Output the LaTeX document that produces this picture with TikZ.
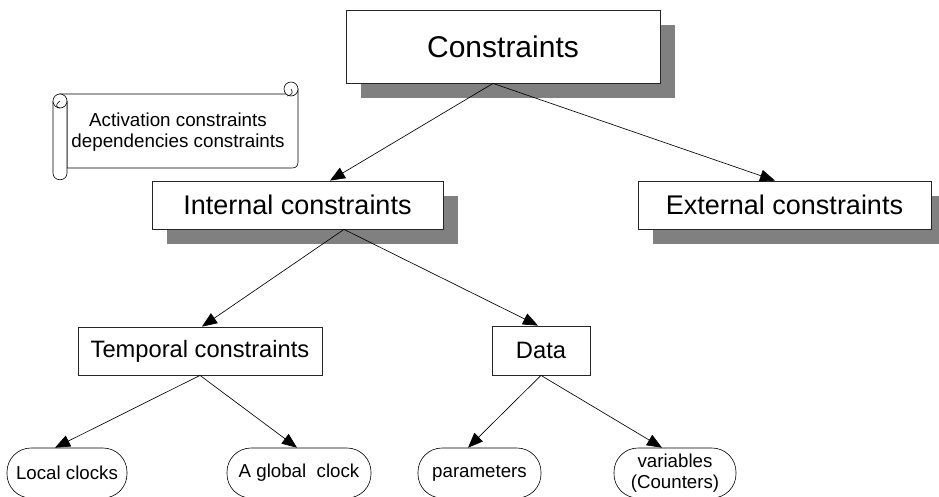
\documentclass[tikz,border=0pt]{standalone}
\usepackage{fontspec}
\setmainfont{Liberation Sans}
\usetikzlibrary{arrows.meta,positioning,shadows}
\tikzset{every picture/.style={
  >={Triangle[length=15pt,width=12pt]}   % Filled triangle tips.
  }
}

\begin{document}
\begin{tikzpicture}[
    x=1pt,y=-1pt,
    box/.style={
      draw=black!85,
      line width=0.8pt,
      fill=white,
      inner sep=0pt,
      align=center
    },
    shadowed/.style={
      drop shadow={shadow xshift=15pt,shadow yshift=-15pt,
        fill=black!50,opacity=1}
    },
    leaf/.style={
      draw,
      line width=0.6pt,
      fill=white,
      rounded corners=24pt,
      inner sep=0pt,
      align=center,
      minimum height=50pt,
      font=\fontsize{18.7}{21.5}\selectfont
    },
    link/.style={->,line width=0.65pt}]

    \useasboundingbox (0,0) rectangle (939,496);

    % The root and the two kinds of constraints.
    \node[box,shadowed,minimum width=314pt,minimum height=73pt,
      font=\fontsize{30}{36}\selectfont] (cons) at (503,46.5) {Constraints};
    \node[box,shadowed,minimum width=291pt,minimum height=48pt,
      font=\fontsize{27}{32}\selectfont] (int) at (297.5,205)
      {Internal constraints};
    \node[box,shadowed,minimum width=293pt,minimum height=48pt,
      font=\fontsize{27}{32}\selectfont] (ext) at (784.5,205)
      {External constraints};

    % Second level below the internal constraints.
    \node[box,minimum width=244pt,minimum height=48pt,
      font=\fontsize{23.7}{28}\selectfont] (temp) at (200,351)
      {Temporal constraints};
    \node[box,minimum width=98pt,minimum height=49pt,
      font=\fontsize{23.7}{28}\selectfont] (data) at (541,350.5) {Data};

    % The leaves.
    \node[leaf,minimum width=120pt] (local) at (67,473) {Local clocks};
    \node[leaf,minimum width=144pt] (glob) at (299,473) {A global\ \ clock};
    \node[leaf,minimum width=123pt] (param) at (479.5,473) {parameters};
    \node[leaf,minimum width=122pt] (vars) at (675,473)
      {variables\\(Counters)};

    % The scroll with the note.
    \begin{scope}[line width=0.6pt]
      \filldraw[fill=white] (60,94) -- (291,94) -- (298,89) -- (298,162)
        .. controls (298,166) and (296,168) .. (292,168) -- (67,168)
        -- (67,101) -- cycle;
      \filldraw[fill=white] (53,101) -- (53,173)
        .. controls (53,182) and (67,182) .. (67,173) -- (67,101);
      \draw[fill=white] (60,101) circle (7);
      \draw (60,101) .. controls (55,104) and (56,108) .. (60,108);
      \draw[fill=white] (291,89) circle (7);
      \draw (291,89) .. controls (293,92) and (293,95) .. (287,96);
    \end{scope}
    \node[inner sep=0pt,align=center,font=\fontsize{18.8}{21}\selectfont]
      (note) at (178,132) {Activation constraints\\dependencies constraints};

    % Connectors.
    \draw[link] ([xshift=-10pt]cons.south) -- ([xshift=32.5pt]int.north);
    \draw[link] ([xshift=-10pt]cons.south) -- ([xshift=-9.5pt]ext.north);
    \draw[link] ([xshift=46.5pt]int.south) -- ([xshift=2pt]temp.north);
    \draw[link] ([xshift=46.5pt]int.south) -- ([xshift=-3pt]data.north);
    \draw[link] (temp.south) -- ([xshift=-12pt]local.north);
    \draw[link] (temp.south) -- ([xshift=-2pt]glob.north);
    \draw[link] (data.south) -- ([xshift=-11.5pt]param.north);
    \draw[link] (data.south) -- ([xshift=-13pt]vars.north);
  \end{tikzpicture}
\end{document}
